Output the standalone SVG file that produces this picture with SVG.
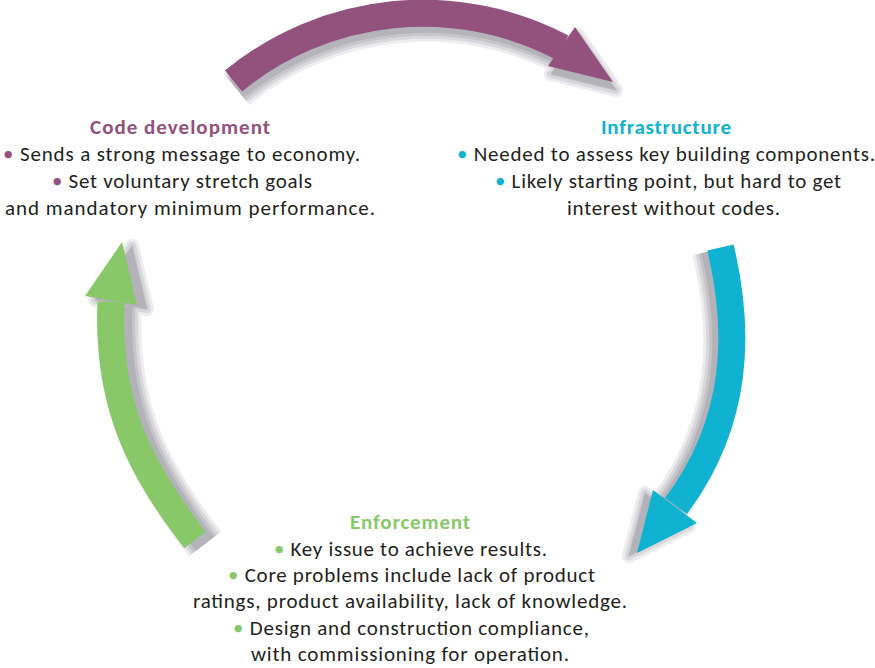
<svg xmlns="http://www.w3.org/2000/svg" width="875" height="668" viewBox="0 0 875 668">
  <defs>
    <style>
      .band { fill: none; stroke-width: 27; stroke-linecap: butt; }
      .band.purple { stroke: #93517d; }
      .band.cyan { stroke: #10b2d1; }
      .band.green { stroke: #89c869; }
      .head { stroke: none; }
      .head.purple { fill: #93517d; }
      .head.cyan { fill: #10b2d1; }
      .head.green { fill: #89c869; }
      /* soft shadow built from stacked translucent layers */
      .sh { stroke: #6e6e78; stroke-linejoin: round; }
      .sb { fill: none; stroke-linecap: butt; }
      .sp { fill: #6e6e78; }
      .l1 { opacity: 0.12; }
      .l1 .sb { stroke-width: 41; }
      .l1 .sp { stroke-width: 14; }
      .l2 { opacity: 0.15; }
      .l2 .sb { stroke-width: 35; }
      .l2 .sp { stroke-width: 8; }
      .l3 { opacity: 0.18; }
      .l3 .sb { stroke-width: 29; }
      .l3 .sp { stroke-width: 2; }
      .l4 { opacity: 0.2; }
      .l4 .sb { stroke-width: 23; }
      .l4 .sp { stroke: none; }
      text { font-family: Carlito, Lato, "Liberation Sans", sans-serif; font-size: 21px; fill: #231f20; }
      .title { font-weight: bold; }
      .t-purple { fill: #93517d; }
      .t-cyan { fill: #10b2d1; }
      .t-green { fill: #89c869; }
    </style>
    <path id="bandTop" d="M233.5 81 A299 299 0 0 1 562 47.5"/>
    <polygon id="headTop" points="575,27 613,82 548,66"/>
    <path id="bandRight" d="M720.5 247.5 C740 330 740 420 676 506"/>
    <polygon id="headRight" points="697,523 637,553 653,490"/>
    <path id="bandLeft" d="M195 540 C145 475 106 410 111 302"/>
    <polygon id="headLeft" points="85,296 122,242 137,305"/>
  </defs>

  <rect width="875" height="668" fill="#ffffff"/>

  <!-- cycle arrows -->
  <g id="connectors">
    <g id="arrow-code-to-infra">
      <g class="sh" transform="translate(3,8)">
        <g class="l1"><use href="#bandTop" class="sb"/><use href="#headTop" class="sp"/></g>
        <g class="l2"><use href="#bandTop" class="sb"/><use href="#headTop" class="sp"/></g>
        <g class="l3"><use href="#bandTop" class="sb"/><use href="#headTop" class="sp"/></g>
        <g class="l4"><use href="#bandTop" class="sb"/><use href="#headTop" class="sp"/></g>
      </g>
      <use href="#bandTop" class="band purple"/>
      <use href="#headTop" class="head purple"/>
    </g>
    <g id="arrow-infra-to-enf">
      <g class="sh" transform="translate(-8,3)">
        <g class="l1"><use href="#bandRight" class="sb"/><use href="#headRight" class="sp"/></g>
        <g class="l2"><use href="#bandRight" class="sb"/><use href="#headRight" class="sp"/></g>
        <g class="l3"><use href="#bandRight" class="sb"/><use href="#headRight" class="sp"/></g>
        <g class="l4"><use href="#bandRight" class="sb"/><use href="#headRight" class="sp"/></g>
      </g>
      <use href="#bandRight" class="band cyan"/>
      <use href="#headRight" class="head cyan"/>
    </g>
    <g id="arrow-enf-to-code">
      <g class="sh" transform="translate(10,4)">
        <g class="l1"><use href="#bandLeft" class="sb"/><use href="#headLeft" class="sp"/></g>
        <g class="l2"><use href="#bandLeft" class="sb"/><use href="#headLeft" class="sp"/></g>
        <g class="l3"><use href="#bandLeft" class="sb"/><use href="#headLeft" class="sp"/></g>
        <g class="l4"><use href="#bandLeft" class="sb"/><use href="#headLeft" class="sp"/></g>
      </g>
      <use href="#bandLeft" class="band green"/>
      <use href="#headLeft" class="head green"/>
    </g>
  </g>

  <!-- Code development -->
  <g id="node-code-development">
    <text class="title t-purple" x="90" y="134" textLength="180">Code development</text>
    <text x="3" y="161" textLength="357"><tspan class="t-purple">•</tspan> Sends a strong message to economy.</text>
    <text x="52" y="188" textLength="260"><tspan class="t-purple">•</tspan> Set voluntary stretch goals</text>
    <text x="5" y="215" textLength="370">and mandatory minimum performance.</text>
  </g>

  <!-- Infrastructure -->
  <g id="node-infrastructure">
    <text class="title t-cyan" x="601" y="134" textLength="130">Infrastructure</text>
    <text x="457" y="161" textLength="418"><tspan class="t-cyan">•</tspan> Needed to assess key building components.</text>
    <text x="495" y="188" textLength="346"><tspan class="t-cyan">•</tspan> Likely starting point, but hard to get</text>
    <text x="567" y="215" textLength="213">interest without codes.</text>
  </g>

  <!-- Enforcement -->
  <g id="node-enforcement">
    <text class="title t-green" x="350" y="529" textLength="120">Enforcement</text>
    <text x="274" y="556" textLength="273"><tspan class="t-green">•</tspan> Key issue to achieve results.</text>
    <text x="228" y="582" textLength="367"><tspan class="t-green">•</tspan> Core problems include lack of product</text>
    <text x="193" y="608" textLength="434">ratings, product availability, lack of knowledge.</text>
    <text x="233" y="635" textLength="356"><tspan class="t-green">•</tspan> Design and construction compliance,</text>
    <text x="251" y="661" textLength="318">with commissioning for operation.</text>
  </g>
</svg>
